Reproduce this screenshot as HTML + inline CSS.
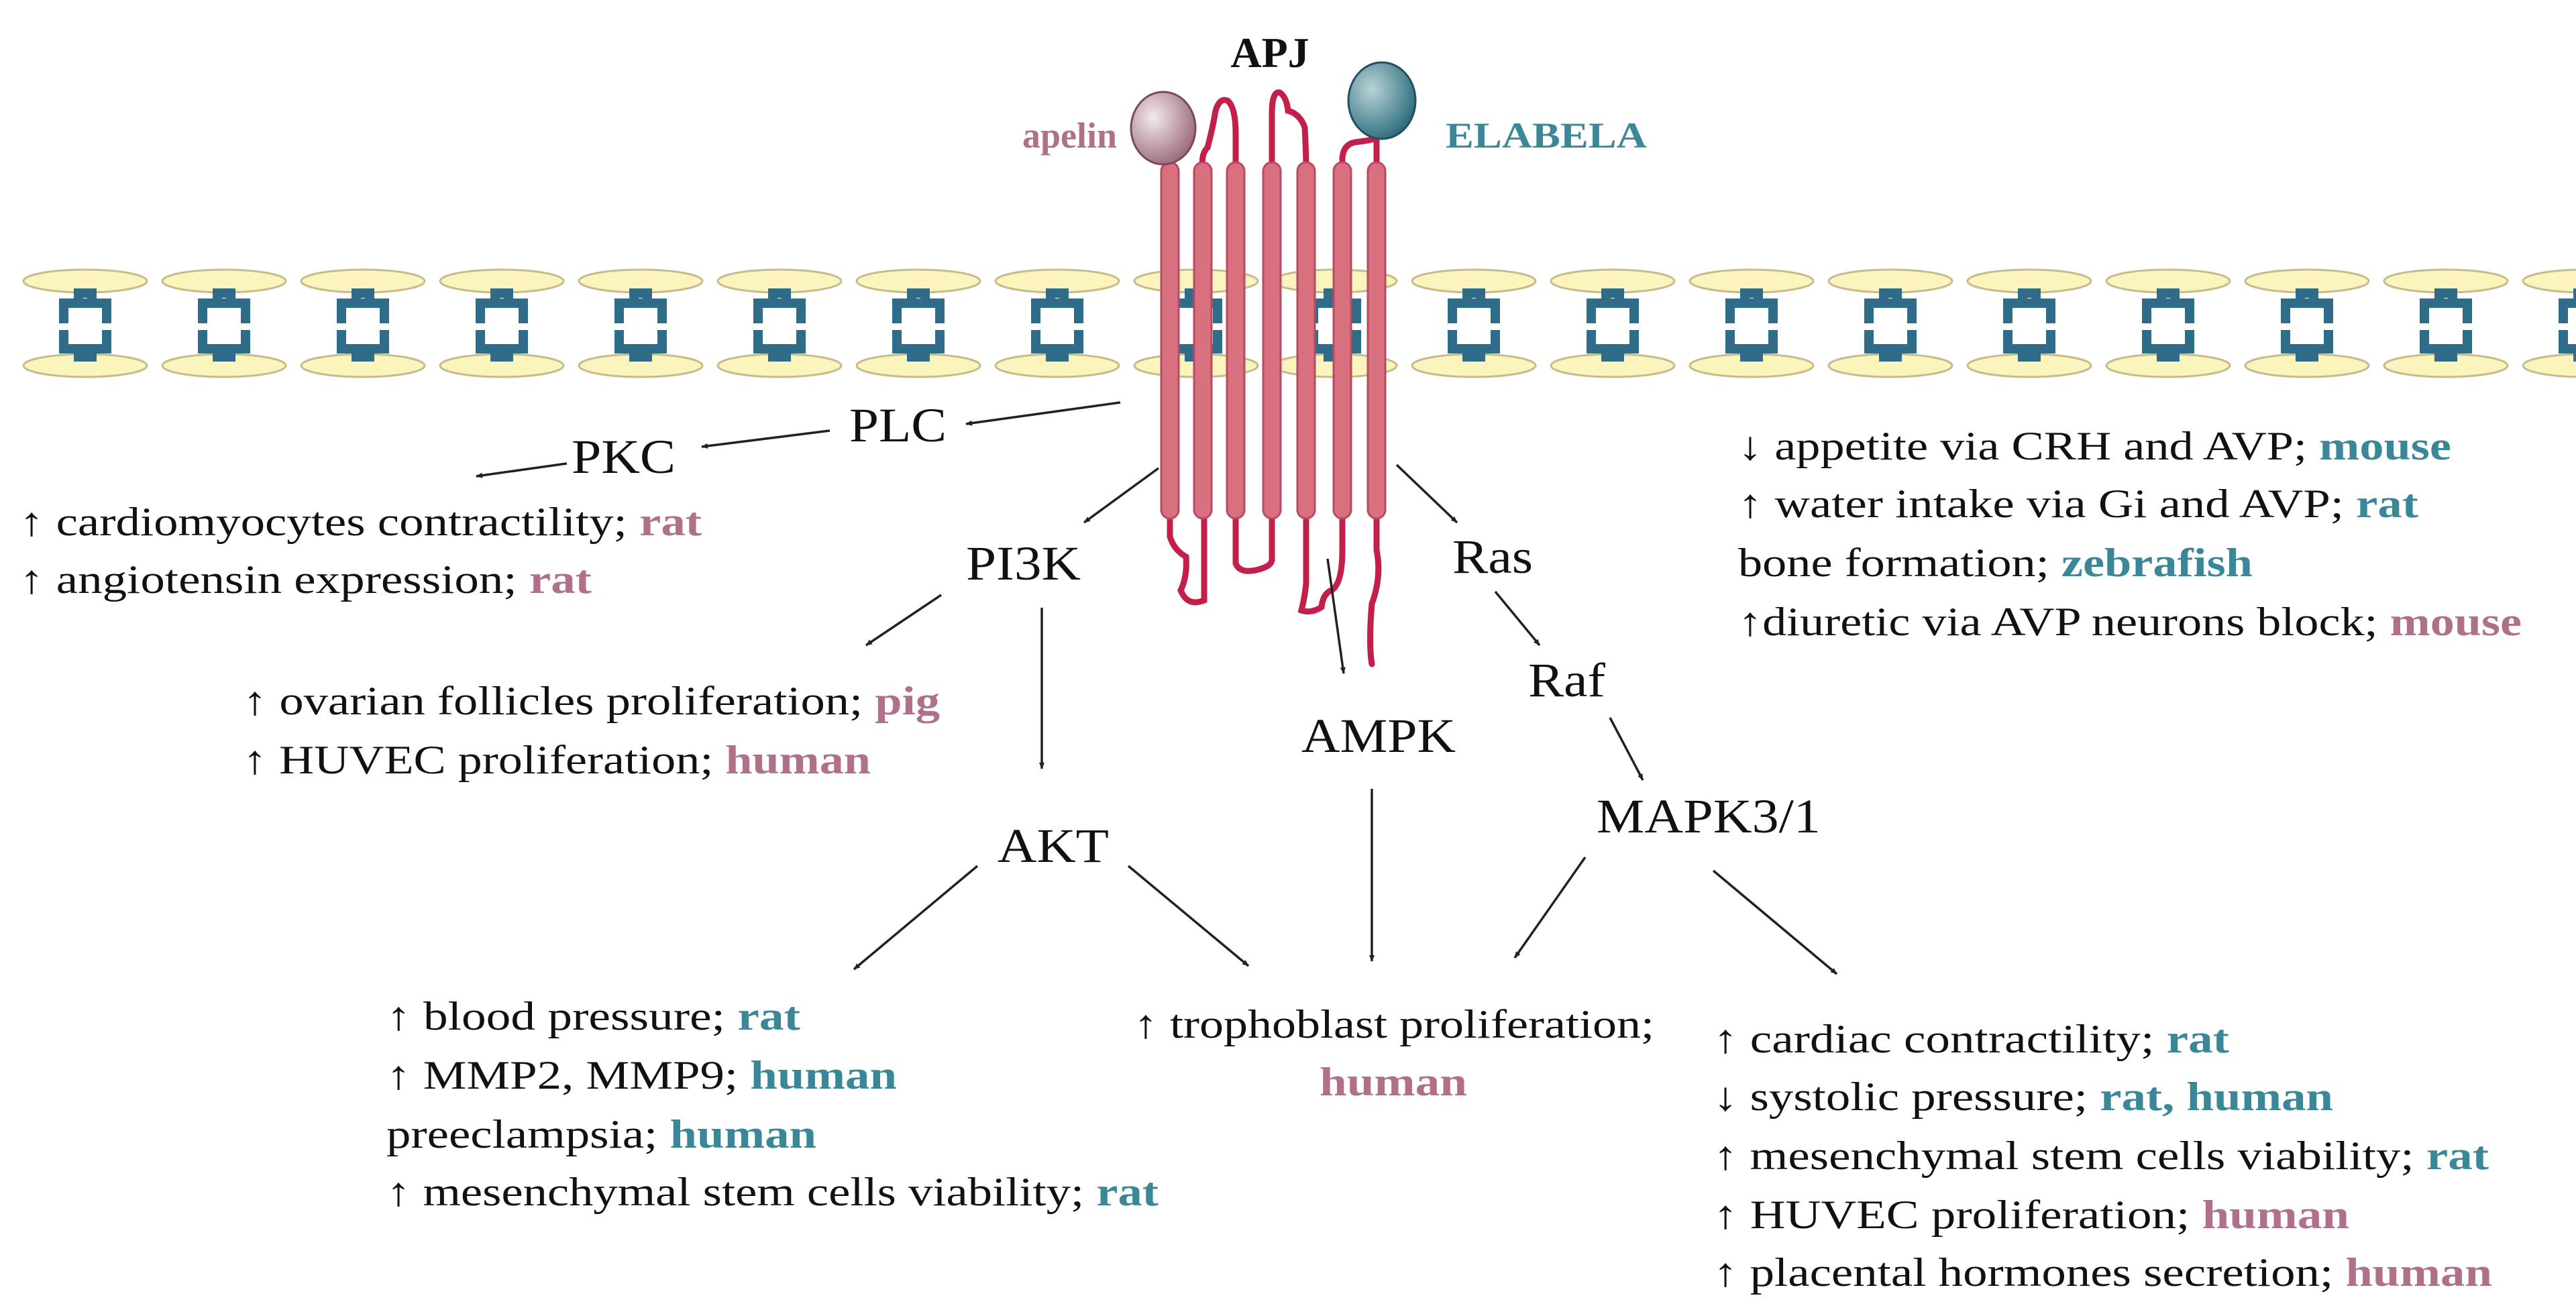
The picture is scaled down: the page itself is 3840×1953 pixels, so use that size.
<!DOCTYPE html>
<html><head><meta charset="utf-8"><style>
html,body{margin:0;padding:0;background:#fff}
svg{display:block}
text{font-family:"Liberation Serif",serif;fill:#111}
.b{font-size:60px}
.n{font-size:72px}
.p{fill:#b0708a;font-weight:bold}
.t{fill:#3a8797;font-weight:bold}
</style></head><body>
<svg width="3840" height="1953" viewBox="0 0 3840 1953" xmlns="http://www.w3.org/2000/svg">
<defs>
<marker id="a" markerWidth="10" markerHeight="10" refX="9" refY="5" orient="auto" markerUnits="userSpaceOnUse" viewBox="0 0 10 10">
<path d="M0,1 L10,5 L0,9 z" fill="#222"/></marker>
<radialGradient id="ga" cx="0.35" cy="0.35" r="0.7"><stop offset="0" stop-color="#f3eaea"/><stop offset="1" stop-color="#9b6a7c"/></radialGradient>
<radialGradient id="ge" cx="0.35" cy="0.35" r="0.7"><stop offset="0" stop-color="#b8d4d6"/><stop offset="1" stop-color="#2c6d7e"/></radialGradient>
<g id="unit">
<ellipse cx="0" cy="419" rx="92" ry="17" fill="#fbf4bd" stroke="#c7bb8c" stroke-width="3"/>
<ellipse cx="0" cy="545" rx="92" ry="17" fill="#fbf4bd" stroke="#c7bb8c" stroke-width="3"/>
<path d="M-32,482 V452 H32 V482 M-10,452 V437 H10 V452" fill="none" stroke="#2f6c8a" stroke-width="14"/>
<path d="M-32,492 V520 H32 V492 M-10,520 V532 H10 V520" fill="none" stroke="#2f6c8a" stroke-width="14"/>
</g>
</defs>
<g>
<use href="#unit" x="127"/><use href="#unit" x="334"/><use href="#unit" x="541"/><use href="#unit" x="748"/>
<use href="#unit" x="955"/><use href="#unit" x="1162"/><use href="#unit" x="1369"/><use href="#unit" x="1576"/>
<use href="#unit" x="1783"/><use href="#unit" x="1990"/><use href="#unit" x="2197"/><use href="#unit" x="2404"/>
<use href="#unit" x="2611"/><use href="#unit" x="2818"/><use href="#unit" x="3025"/><use href="#unit" x="3232"/>
<use href="#unit" x="3439"/><use href="#unit" x="3646"/><use href="#unit" x="3853"/>
</g>
<g fill="none" stroke="#c21f4b" stroke-width="9" stroke-linecap="round">
<path d="M1744,250 V240"/>
<path d="M1793,250 Q1790,230 1800,220 Q1808,190 1812,165 Q1818,145 1830,150 Q1842,160 1842,200 V250"/>
<path d="M1896,250 V170 Q1896,135 1908,138 Q1918,145 1920,165 Q1938,170 1945,190 Q1947,230 1947,250"/>
<path d="M2001,250 V235 Q2003,215 2020,212 Q2040,210 2052,206"/>
<path d="M2052,250 V205"/>
<path d="M1744,770 V800 Q1750,820 1768,830 Q1770,860 1760,880 Q1770,905 1795,895 V770"/>
<path d="M1842,770 V840 Q1848,855 1872,850 Q1895,845 1896,835 V770"/>
<path d="M1947,770 V870 Q1945,890 1940,910 Q1955,915 1970,905 Q1972,885 1985,880 Q2001,870 2001,820 V770"/>
<path d="M2052,770 V820 Q2060,860 2045,900 Q2040,960 2045,990"/>
</g>
<g fill="#d9707f" stroke="#b84a62" stroke-width="3">
<rect x="1731" y="242" width="26" height="531" rx="13"/>
<rect x="1780" y="242" width="26" height="531" rx="13"/>
<rect x="1829" y="242" width="26" height="531" rx="13"/>
<rect x="1883" y="242" width="26" height="531" rx="13"/>
<rect x="1934" y="242" width="26" height="531" rx="13"/>
<rect x="1988" y="242" width="26" height="531" rx="13"/>
<rect x="2039" y="242" width="26" height="531" rx="13"/>
</g>
<ellipse cx="1734" cy="191" rx="48" ry="54" fill="url(#ga)" stroke="#7a4a5c" stroke-width="3"/>
<ellipse cx="2060" cy="150" rx="50" ry="57" fill="url(#ge)" stroke="#234f5e" stroke-width="3"/>
<text x="1893" y="100" font-size="64" font-weight="bold" text-anchor="middle">APJ</text>
<text x="1665" y="220" font-size="54" class="p" text-anchor="end">apelin</text>
<text x="2155" y="220" font-size="54" class="t" textLength="300" lengthAdjust="spacingAndGlyphs">ELABELA</text>

<g stroke="#222" stroke-width="3.5" marker-end="url(#a)">
<line x1="1670" y1="600" x2="1440" y2="632"/>
<line x1="1237" y1="642" x2="1046" y2="666"/>
<line x1="845" y1="691" x2="710" y2="710"/>
<line x1="1727" y1="698" x2="1616" y2="779"/>
<line x1="1403" y1="887" x2="1291" y2="962"/>
<line x1="1553" y1="906" x2="1553" y2="1146"/>
<line x1="1979" y1="833" x2="2003" y2="1004"/>
<line x1="2082" y1="693" x2="2172" y2="779"/>
<line x1="2229" y1="882" x2="2295" y2="962"/>
<line x1="2400" y1="1070" x2="2449" y2="1163"/>
<line x1="2045" y1="1176" x2="2045" y2="1433"/>
<line x1="1457" y1="1291" x2="1273" y2="1445"/>
<line x1="1682" y1="1291" x2="1861" y2="1440"/>
<line x1="2363" y1="1278" x2="2258" y2="1428"/>
<line x1="2554" y1="1298" x2="2738" y2="1452"/>
</g>

<g class="n">
<text x="1266" y="658" textLength="145" lengthAdjust="spacingAndGlyphs">PLC</text>
<text x="852" y="705" textLength="155" lengthAdjust="spacingAndGlyphs">PKC</text>
<text x="1440" y="864" textLength="171" lengthAdjust="spacingAndGlyphs">PI3K</text>
<text x="2165" y="854" textLength="120" lengthAdjust="spacingAndGlyphs">Ras</text>
<text x="2278" y="1038" textLength="115" lengthAdjust="spacingAndGlyphs">Raf</text>
<text x="1940" y="1121" textLength="230" lengthAdjust="spacingAndGlyphs">AMPK</text>
<text x="1487" y="1285" textLength="166" lengthAdjust="spacingAndGlyphs">AKT</text>
<text x="2380" y="1241" textLength="334" lengthAdjust="spacingAndGlyphs">MAPK3/1</text>
</g>

<g class="b">
<text x="29" y="798" textLength="1017" lengthAdjust="spacingAndGlyphs">↑ cardiomyocytes contractility; <tspan class="p">rat</tspan></text>
<text x="29" y="884" textLength="853" lengthAdjust="spacingAndGlyphs">↑ angiotensin expression; <tspan class="p">rat</tspan></text>
<text x="362" y="1065" textLength="1039" lengthAdjust="spacingAndGlyphs">↑ ovarian follicles proliferation; <tspan class="p">pig</tspan></text>
<text x="362" y="1153" textLength="936" lengthAdjust="spacingAndGlyphs">↑ HUVEC proliferation; <tspan class="p">human</tspan></text>

<text x="2591" y="685" textLength="1063" lengthAdjust="spacingAndGlyphs">↓ appetite via CRH and AVP; <tspan class="t">mouse</tspan></text>
<text x="2591" y="771" textLength="1014" lengthAdjust="spacingAndGlyphs">↑ water intake via Gi and AVP; <tspan class="t">rat</tspan></text>
<text x="2591" y="859" textLength="767" lengthAdjust="spacingAndGlyphs">bone formation; <tspan class="t">zebrafish</tspan></text>
<text x="2591" y="947" textLength="1168" lengthAdjust="spacingAndGlyphs">↑diuretic via AVP neurons block; <tspan class="p">mouse</tspan></text>

<text x="576" y="1535" textLength="617" lengthAdjust="spacingAndGlyphs">↑ blood pressure; <tspan class="t">rat</tspan></text>
<text x="576" y="1623" textLength="761" lengthAdjust="spacingAndGlyphs">↑ MMP2, MMP9; <tspan class="t">human</tspan></text>
<text x="576" y="1711" textLength="641" lengthAdjust="spacingAndGlyphs">preeclampsia; <tspan class="t">human</tspan></text>
<text x="576" y="1797" textLength="1151" lengthAdjust="spacingAndGlyphs">↑ mesenchymal stem cells viability; <tspan class="t">rat</tspan></text>

<text x="1690" y="1547" textLength="776" lengthAdjust="spacingAndGlyphs">↑ trophoblast proliferation;</text>
<text x="1967" y="1633" textLength="220" lengthAdjust="spacingAndGlyphs" class="p">human</text>

<text x="2554" y="1569" textLength="769" lengthAdjust="spacingAndGlyphs">↑ cardiac contractility; <tspan class="t">rat</tspan></text>
<text x="2554" y="1655" textLength="924" lengthAdjust="spacingAndGlyphs">↓ systolic pressure; <tspan class="t">rat, human</tspan></text>
<text x="2554" y="1743" textLength="1156" lengthAdjust="spacingAndGlyphs">↑ mesenchymal stem cells viability; <tspan class="t">rat</tspan></text>
<text x="2554" y="1831" textLength="948" lengthAdjust="spacingAndGlyphs">↑ HUVEC proliferation; <tspan class="p">human</tspan></text>
<text x="2554" y="1917" textLength="1161" lengthAdjust="spacingAndGlyphs">↑ placental hormones secretion; <tspan class="p">human</tspan></text>
</g>
</svg>
</body></html>
